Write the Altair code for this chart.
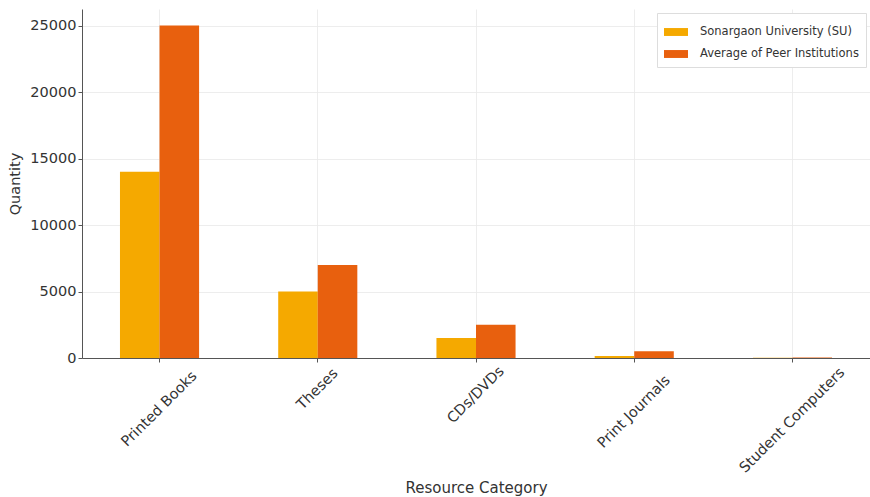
import altair as alt
import pandas as pd

categories = ["Printed Books", "Theses", "CDs/DVDs", "Print Journals", "Student Computers"]
su_values = [14000, 5000, 1500, 150, 20]
peer_values = [25000, 7000, 2500, 500, 40]
series_names = ["Sonargaon University (SU)", "Average of Peer Institutions"]
colors = ["#F5A900", "#E8600E"]
y_ticks = [0, 5000, 10000, 15000, 20000, 25000]

rows = []
for c, s, p in zip(categories, su_values, peer_values):
    rows.append({"Category": c, "Series": series_names[0], "Quantity": s})
    rows.append({"Category": c, "Series": series_names[1], "Quantity": p})
df = pd.DataFrame(rows)

font = "DejaVu Sans"

chart = alt.Chart(df).mark_bar().encode(
    x=alt.X("Category:N", sort=categories,
            scale=alt.Scale(paddingInner=0.5, paddingOuter=0.24),
            axis=alt.Axis(title="Resource Category", labelAngle=-45, labelAlign="center",
                          labelBaseline="middle", labelFontSize=14.5, titleFontSize=15,
                          titleFontWeight="normal", titlePadding=6, grid=True,
                          labelPadding=alt.ExprRef("10 + 2.83 * length(datum.label)"),
                          bandPosition=0.5, tickSize=4)),
    xOffset=alt.XOffset("Series:N", sort=series_names),
    y=alt.Y("Quantity:Q", scale=alt.Scale(domain=[0, 26250], nice=False),
            axis=alt.Axis(title="Quantity", values=y_ticks, format="d", labelFontSize=14.5,
                          titleFontSize=14.5, titleFontWeight="normal", tickSize=4,
                          labelPadding=2, titlePadding=7, grid=True)),
    color=alt.Color("Series:N", sort=series_names,
                    scale=alt.Scale(domain=series_names, range=colors),
                    legend=alt.Legend(title=None, orient="top-right", offset=4,
                                      symbolType="M-1,-0.33L1,-0.33L1,0.33L-1,0.33Z",
                                      symbolSize=576, labelFontSize=11.5, labelOffset=12,
                                      labelLimit=300,
                                      strokeColor="#dddddd", padding=7, fillColor="white",
                                      rowPadding=4, symbolStrokeWidth=0)),
).properties(
    width=788, height=349,
    autosize=alt.AutoSizeParams(type="none"),
    padding={"left": 82, "top": 9, "right": 0, "bottom": 139},
).configure_axis(
    labelFont=font, titleFont=font, labelColor="#333333", titleColor="#333333",
    domainColor="#555555", tickColor="#555555", gridColor="#e8e8e8", gridWidth=0.8,
).configure_legend(
    labelFont=font, labelColor="#333333",
).configure_view(stroke=None)

chart.save("out.html", embed_options={"renderer": "svg", "actions": False})
